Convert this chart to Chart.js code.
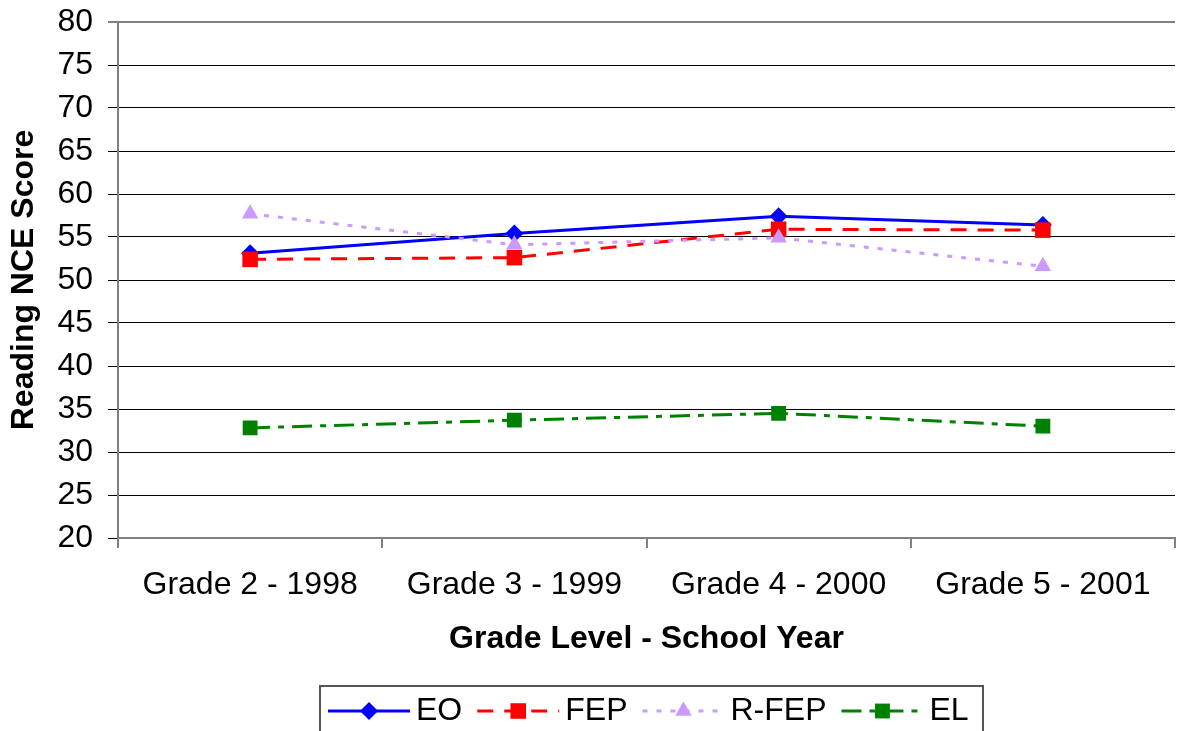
<!DOCTYPE html>
<html lang="en">
<head>
<meta charset="UTF-8">
<title>Reading NCE Score</title>
<script src="https://cdn.jsdelivr.net/npm/chart.js"></script>
<style>
    body { margin: 0; overflow: hidden; background: #fff; }
    #caixa { position: relative; width: 1186px; height: 731px; }
</style>
</head>
<body>
<div id="caixa"><canvas id="grafico"></canvas></div>
<script>
    // data
    const categorias = ['Grade 2 - 1998', 'Grade 3 - 1999', 'Grade 4 - 2000', 'Grade 5 - 2001']
    const eo = [53.1, 55.4, 57.4, 56.4]
    const fep = [52.4, 52.6, 55.9, 55.8]
    const rfep = [57.7, 54.1, 54.9, 51.6]
    const el = [32.8, 33.7, 34.5, 33.0]
    const yMin = 20
    const yMax = 80
    const yPasso = 5

    const fonte = "'Liberation Sans', Arial, sans-serif"
    Chart.defaults.font.family = fonte
    Chart.defaults.color = '#000'

    const series = [
        { label: 'EO', data: eo, cor: '#0000FF', dash: [], ponto: 'rectRot', raio: 9, ordem: 4 },
        { label: 'FEP', data: fep, cor: '#FF0000', dash: [16, 11], ponto: 'rect', raio: 11, ordem: 3 },
        { label: 'R-FEP', data: rfep, cor: '#CC99FF', dash: [5, 9], ponto: 'triangle', raio: 9.5, ordem: 2 },
        { label: 'EL', data: el, cor: '#008000', dash: [20, 8, 6, 8], ponto: 'rect', raio: 10.5, ordem: 1 },
    ]

    function desenhaPonto(ctx, tipo, x, y, r) {
        ctx.beginPath()
        if (tipo === 'rectRot') {
            ctx.moveTo(x, y - r); ctx.lineTo(x + r, y); ctx.lineTo(x, y + r); ctx.lineTo(x - r, y)
        } else if (tipo === 'rect') {
            const s = r * Math.SQRT1_2
            ctx.rect(x - s, y - s, 2 * s, 2 * s)
        } else if (tipo === 'triangle') {
            const a = Math.PI / 2
            for (let i = 0; i < 3; i++) {
                const ang = -a + i * 2 * Math.PI / 3
                const px = x + Math.cos(ang) * r, py = y + Math.sin(ang) * r
                if (i == 0) ctx.moveTo(px, py); else ctx.lineTo(px, py)
            }
        }
        ctx.closePath()
        ctx.fill()
    }

    const legenda = {
        id: 'legenda',
        afterDraw(chart) {
            const ctx = chart.ctx
            ctx.save()
            ctx.strokeStyle = '#555'
            ctx.lineWidth = 2
            ctx.strokeRect(320, 686, 663, 70)
            ctx.font = '32px ' + fonte
            ctx.textBaseline = 'middle'
            ctx.textAlign = 'left'
            let x = 328
            const y = 711
            series.forEach(s => {
                ctx.strokeStyle = s.cor
                ctx.lineWidth = 3
                ctx.setLineDash(s.dash)
                ctx.beginPath()
                ctx.moveTo(x, y)
                ctx.lineTo(x + 82, y)
                ctx.stroke()
                ctx.setLineDash([])
                ctx.fillStyle = s.cor
                desenhaPonto(ctx, s.ponto, x + 41, y, s.raio)
                ctx.fillStyle = '#000'
                ctx.fillText(s.label, x + 88, y)
                x += 88 + ctx.measureText(s.label).width + 15
            })
            ctx.restore()
        }
    }

    new Chart(
        grafico,
        {
            type: 'line',
            data: {
                labels: categorias,
                datasets: series.map(s => ({
                    label: s.label,
                    data: s.data,
                    borderColor: s.cor,
                    backgroundColor: s.cor,
                    borderWidth: 3,
                    borderDash: s.dash,
                    pointStyle: s.ponto,
                    pointRadius: s.raio,
                    pointBorderWidth: 0,
                    tension: 0,
                    order: s.ordem,
                }))
            },
            options: {
                responsive: true,
                maintainAspectRatio: false,
                animation: false,
                layout: { padding: { top: 22, right: 2, bottom: 0, left: 0 } },
                plugins: {
                    legend: { display: false },
                    tooltip: { enabled: false },
                },
                scales: {
                    x: {
                        offset: true,
                        grid: {
                            offset: true,
                            drawOnChartArea: false,
                            drawTicks: true,
                            tickLength: 10,
                            color: '#808080',
                            lineWidth: 2,
                        },
                        border: { display: true, color: '#808080', width: 2 },
                        ticks: { font: { size: 32 }, padding: 18, autoSkip: false, maxRotation: 0 },
                        title: {
                            display: true,
                            text: 'Grade Level - School Year',
                            font: { size: 32, weight: 'bold' },
                            padding: { top: 0, bottom: 73 },
                        },
                        afterFit: s => { s.height = 193; s.paddingLeft = 0; s.paddingRight = 0 },
                    },
                    y: {
                        min: yMin,
                        max: yMax,
                        ticks: { stepSize: yPasso, font: { size: 32 }, padding: 15 },
                        grid: {
                            tickLength: 10,
                            color: c => c.tick && c.tick.value === yMax ? '#808080' : '#000',
                            lineWidth: c => c.tick && c.tick.value === yMax ? 2 : 1,
                        },
                        border: { display: true, color: '#808080', width: 2 },
                        title: {
                            display: true,
                            text: 'Reading NCE Score',
                            font: { size: 32, weight: 'bold' },
                            padding: { top: 5, bottom: 0 },
                        },
                        afterFit: s => { s.width = 118; s.paddingTop = 0; s.paddingBottom = 0 },
                    }
                }
            },
            plugins: [legenda]
        }
    )
</script>
</body>
</html>
